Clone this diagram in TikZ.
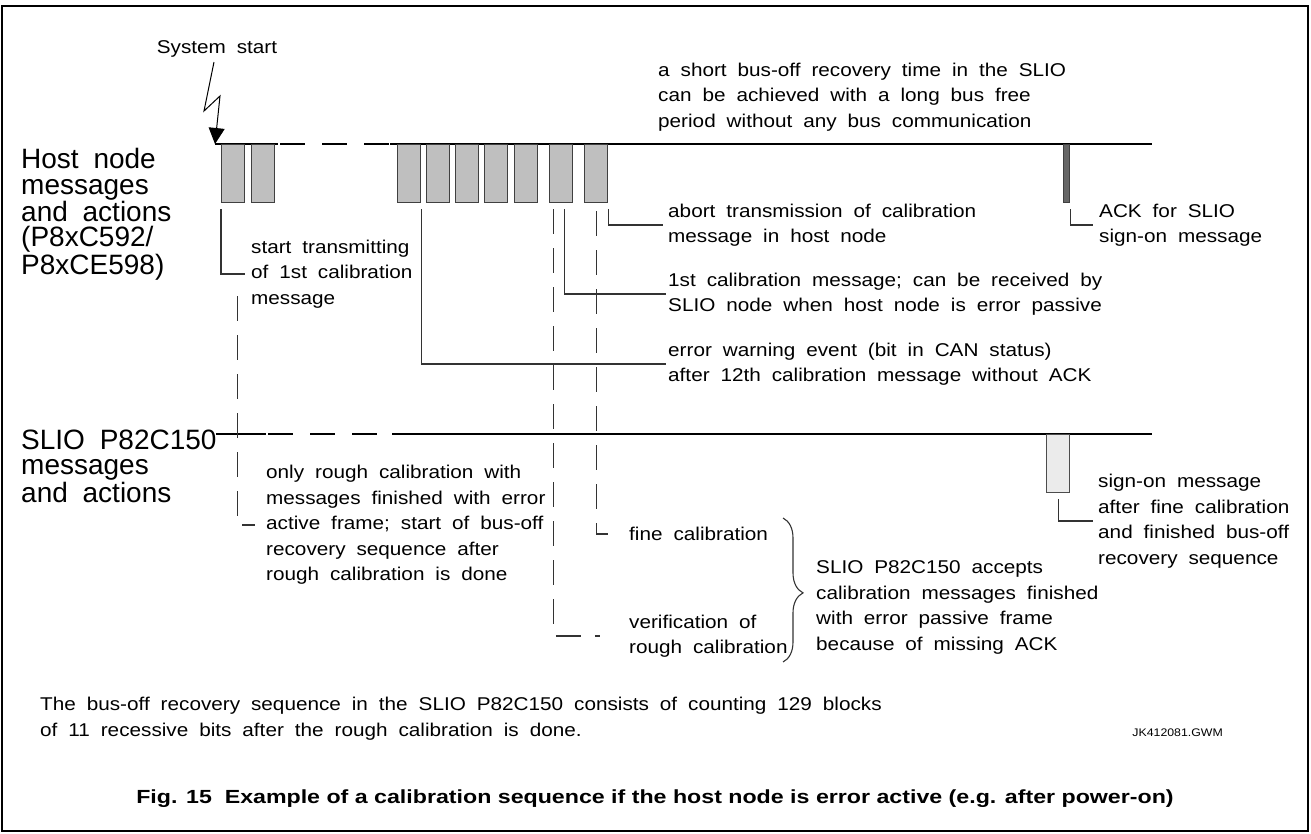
\documentclass[tikz,border=0pt]{standalone}
\usepackage{fontspec}
\setmainfont{Liberation Sans}
\newfontfamily\txtfont{Liberation Sans}[FakeStretch=1.12,WordSpace=1.9]
\newfontfamily\lblfont{Liberation Sans}[WordSpace=1.9]
\newfontfamily\capfont{Liberation Sans}[FakeStretch=1.22]
\usetikzlibrary{arrows.meta, decorations.pathreplacing}

\begin{document}
\begin{tikzpicture}[
    x=1pt, y=-1pt,
    msg/.style={rectangle, draw=black!75, fill=black!25, line width=1.2pt, minimum width=23pt, minimum height=58pt, inner sep=0pt, anchor=north west},
    txt/.style={font=\txtfont\fontsize{18.5}{25.5}\selectfont, align=left, inner sep=0pt, anchor=west},
    lbl/.style={font=\lblfont\fontsize{28}{25.5}\selectfont, align=left, inner sep=0pt, anchor=base west},
    bus/.style={line width=1.5pt},
    lead/.style={line width=1.1pt, draw=black!80},
    dlead/.style={lead, dash pattern=on 25pt off 14pt},
    gap/.style={dash pattern=on 25pt off 17pt}
]

\useasboundingbox (0,0) rectangle (1311,833);
\draw[line width=2pt] (2,6) rectangle (1308,831);

% bus lines
\draw[bus] (215,144) -- (278,144);
\draw[bus, gap] (280,144) -- (390,144);
\draw[bus] (390,144) -- (1152,144);
\draw[bus] (216,434) -- (266,434);
\draw[bus, gap] (268,434) -- (378,434);
\draw[bus] (392,434) -- (1152,434);

% host node messages
\node[msg] (s1) at (221,144) {};
\node[msg] (s2) at (251,144) {};
\foreach \x [count=\i] in {397,426,455,484,514}
    \node[msg] (w\i) at (\x,144) {};
\node[msg] (p1) at (549,144) {};
\node[msg] (p2) at (584,144) {};
\node[msg, fill=black!60, minimum width=6pt] (ack) at (1063,144) {};

% SLIO message
\node[msg, fill=black!8, draw=black!70] (sbox) at (1046,434) {};

% labels (base = last line)
\node (tsys) at (217,53) [anchor=base, font=\txtfont\fontsize{18.5}{25.5}\selectfont, inner sep=0pt] {System start};
\node (thost) at (21,274) [lbl] {Host node\\messages\\and actions\\(P8xC592/\\P8xCE598)};
\node (tslio) at (21,502) [lbl] {SLIO P82C150\\messages\\and actions};
\node (tshort) at (658,127) [txt, anchor=base west] {a short bus-off recovery time in the SLIO\\can be achieved with a long bus free\\period without any bus communication};
\node (tstart) at (251,274) [txt] {start transmitting\\of 1st calibration\\message};
\node (tabort) at (668,225) [txt] {abort transmission of calibration\\message in host node};
\node (tfirst) at (668,294) [txt] {1st calibration message; can be received by\\SLIO node when host node is error passive};
\node (twarn) at (668,364) [txt] {error warning event (bit in CAN status)\\after 12th calibration message without ACK};
\node (tack) at (1099,225) [txt] {ACK for SLIO\\sign-on message};
\node (trough) at (266,525) [txt] {only rough calibration with\\messages finished with error\\active frame; start of bus-off\\recovery sequence after\\rough calibration is done};
\node (tfine) at (629,534) [txt] {fine calibration};
\node (tverif) at (629,636) [txt] {verification of\\rough calibration};
\node (taccept) at (816,650) [txt, anchor=base west] {SLIO P82C150 accepts\\calibration messages finished\\with error passive frame\\because of missing ACK};
\node (tsign) at (1098,521) [txt] {sign-on message\\after fine calibration\\and finished bus-off\\recovery sequence};
\node (tnote) at (40,736) [txt, anchor=base west] {The bus-off recovery sequence in the SLIO P82C150 consists of counting 129 blocks\\of 11 recessive bits after the rough calibration is done.};
\node (tjk) at (1223,736) [anchor=base east, font=\txtfont\fontsize{11}{13}\selectfont, inner sep=0pt] {JK412081.GWM};
\node (tcap) at (655,803) [anchor=base, font=\capfont\bfseries\fontsize{19}{22}\selectfont, inner sep=0pt] {Fig. 15\ \ Example of a calibration sequence if the host node is error active (e.g. after power-on)};

% system start
\draw[line width=1pt, -{Triangle[length=16pt,width=16pt]}] ([xshift=-3pt,yshift=-5pt]tsys.south) -- (204,111) -- (220,96) -- ([xshift=-6pt]s1.north west);

% leaders
\draw[lead] ([yshift=-6pt]s1.south west) |- ([xshift=-6pt]tstart.west);
\draw[lead] ([yshift=-6pt]p2.south east) |- ([xshift=-5pt]tabort.west);
\draw[lead] ([xshift=3pt,yshift=-6pt]p1.south) |- ([xshift=-2pt]tfirst.west);
\draw[lead] ([yshift=-6pt]w1.south east) |- ([xshift=-2pt]twarn.west);
\draw[lead] ([yshift=-6pt]ack.south east) |- ([xshift=-6pt]tack.west);
\draw[lead] ([yshift=-6pt]sbox.south) |- ([xshift=-5pt]tsign.west);
\draw[dlead] ([xshift=4pt,yshift=-93pt]s1.south) |- ([xshift=-11pt]trough.west);
\draw[dlead] ([xshift=-7.5pt,yshift=-6pt]p1.south) |- ([xshift=-29pt]tverif.west);
\draw[dlead, dash phase=37pt] ([yshift=-6pt]p2.south) |- ([xshift=-21pt]tfine.west);

% brace
\coordinate (btop) at (783,518);
\coordinate (bbot) at (783,662);
\draw[lead, decorate, decoration={brace, amplitude=20pt, aspect=0.52}] (btop) -- (bbot);

\end{tikzpicture}
\end{document}
